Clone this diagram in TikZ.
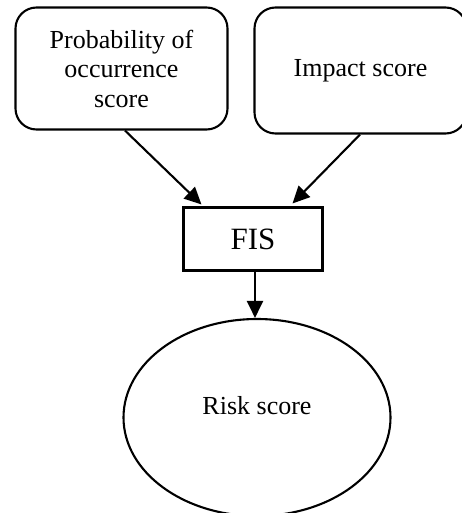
\documentclass[tikz,border=0pt]{standalone}
\usepackage{fontspec}
\setmainfont{Liberation Serif}
\usetikzlibrary{shapes.geometric,arrows.meta,calc}
\tikzset{
  base/.style={draw=black, line width=2.1pt, inner sep=0pt, font=\fontsize{26}{29.5}\selectfont},
  rbox/.style={base, rounded corners=21pt, align=center},
  sbox/.style={base, font=\fontsize{31}{34}\selectfont},
  oval/.style={base, ellipse},
  arr/.style={line width=2.1pt, -{Triangle[length=17pt,width=16pt]}},
  lbl/.style={font=\fontsize{26}{29.5}\selectfont, inner sep=0pt}
}
\begin{document}
\begin{tikzpicture}[x=1pt,y=-1pt]
\useasboundingbox (0,0) rectangle (462,513);
\clip (0,0) rectangle (462,513);
\node[rbox, minimum width=212pt, minimum height=122pt] (prob) at (121.5,68.5) {Probability of\\occurrence\\score};
\node[rbox, minimum width=212pt, minimum height=126pt] (imp) at (360.5,70.5) {Impact score};
\node[sbox, minimum width=139pt, minimum height=63pt] (fis) at (253,239) {FIS};
\node[oval, minimum width=267pt, minimum height=197pt] (risk) at (257,417.5) {};
\node[lbl] (risklabel) at (257,406) {Risk score};
\draw[arr] ($(prob.south)+(3.5,0)$) -- ($(fis.north west)+(19,-2)$);
\draw[arr] ($(imp.south)+(-0.5,0)$) -- ($(fis.north east)+(-31,-3)$);
\draw[arr] ($(fis.south)+(2,0)$) -- ($(risk.north)+(-2,0)$);
\end{tikzpicture}
\end{document}
